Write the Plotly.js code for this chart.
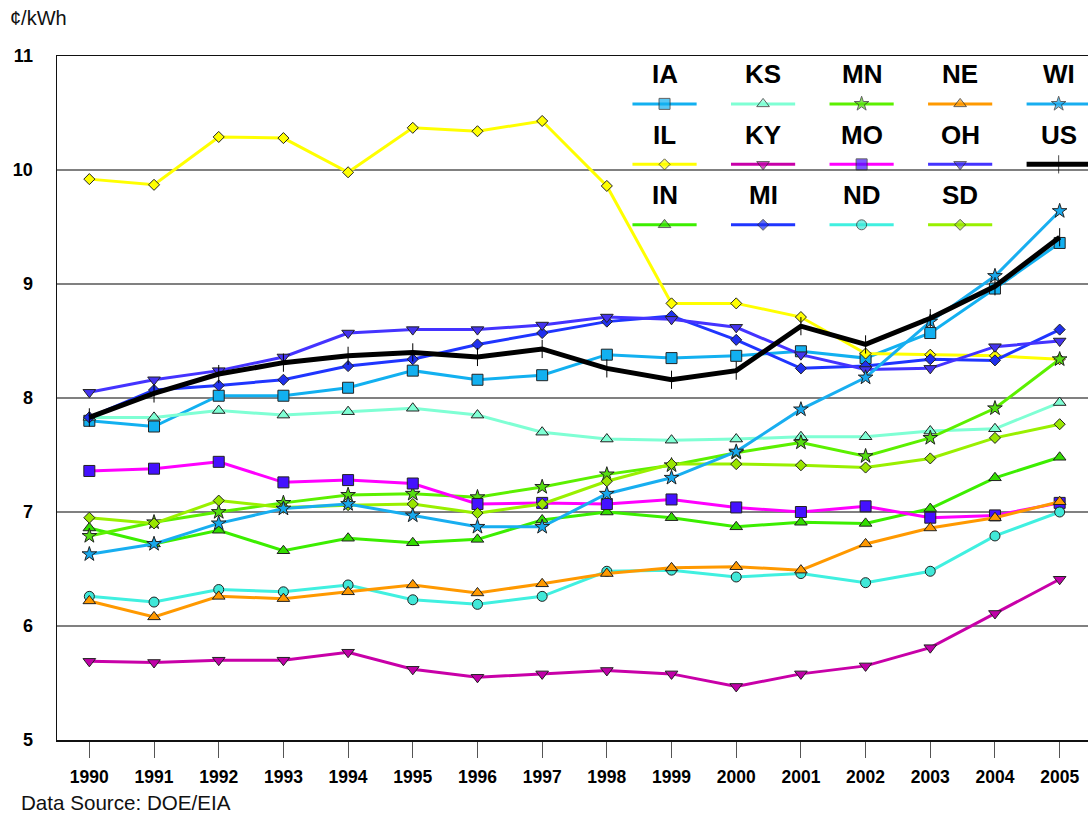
<!DOCTYPE html>
<html><head><meta charset="utf-8">
<script src="https://cdn.plot.ly/plotly-3.0.1.min.js"></script>
<style>html,body{margin:0;padding:0;overflow:hidden;background:#fff}#chart{width:1092px;height:823px}</style>
</head><body><div id="chart"></div><script>
// ---- data ----
const years = [1990,1991,1992,1993,1994,1995,1996,1997,1998,1999,2000,2001,2002,2003,2004,2005];
const seriesNames = ["IA","IL","IN","KS","KY","MI","MN","MO","ND","NE","OH","SD","WI","US"];
const IA = [7.80,7.75,8.02,8.02,8.09,8.24,8.16,8.20,8.38,8.35,8.37,8.41,8.35,8.57,8.96,9.36];
const IL = [9.92,9.87,10.29,10.28,9.98,10.37,10.34,10.43,9.86,8.83,8.83,8.71,8.39,8.38,8.37,8.34];
const IN = [6.86,6.72,6.84,6.66,6.77,6.73,6.76,6.93,7.00,6.95,6.87,6.91,6.90,7.03,7.30,7.48];
const KS = [7.83,7.83,7.89,7.85,7.88,7.91,7.85,7.70,7.64,7.63,7.64,7.66,7.66,7.71,7.73,7.96];
const KY = [5.69,5.68,5.70,5.70,5.77,5.62,5.55,5.58,5.61,5.58,5.47,5.58,5.65,5.81,6.11,6.41];
const MI = [7.83,8.07,8.11,8.16,8.28,8.34,8.47,8.57,8.67,8.72,8.51,8.26,8.28,8.34,8.33,8.60];
const MN = [6.79,6.91,7.00,7.08,7.15,7.16,7.13,7.22,7.33,7.41,7.52,7.61,7.49,7.65,7.91,8.34];
const MO = [7.36,7.38,7.44,7.26,7.28,7.25,7.07,7.08,7.07,7.11,7.04,7.00,7.05,6.95,6.97,7.08];
const ND = [6.26,6.21,6.32,6.30,6.36,6.23,6.19,6.26,6.48,6.49,6.43,6.46,6.38,6.48,6.79,7.00];
const NE = [6.22,6.08,6.26,6.24,6.30,6.36,6.29,6.37,6.46,6.51,6.52,6.49,6.72,6.86,6.95,7.09];
const OH = [8.05,8.16,8.24,8.36,8.57,8.60,8.60,8.64,8.71,8.69,8.62,8.38,8.25,8.26,8.45,8.50];
const SD = [6.95,6.90,7.10,7.04,7.06,7.07,6.99,7.07,7.27,7.42,7.42,7.41,7.39,7.47,7.65,7.77];
const WI = [6.63,6.72,6.90,7.03,7.07,6.97,6.87,6.87,7.16,7.30,7.53,7.90,8.18,8.67,9.07,9.64];
const US = [7.83,8.04,8.21,8.31,8.37,8.40,8.36,8.43,8.26,8.16,8.24,8.63,8.47,8.70,8.98,9.41];
const yTicks = [5,6,7,8,9,10,11];
const yUnit = "¢/kWh";
const sourceNote = "Data Source: DOE/EIA";

// ---- styles ----
const seriesData = [IA,IL,IN,KS,KY,MI,MN,MO,ND,NE,OH,SD,WI,US];
const lineColors = ["#12B0F0","#FFFF00","#3CEE00","#7FFFD4","#C800A8","#1F35FF","#5CF000","#FF00FF","#40F0E0","#FF9900","#4433FF","#99F000","#18AEF0","#000000"];
const markerColors = ["#12B0F0","#FFFF00","#33DD00","#7FFFD4","#C000A8","#1F30EE","#55DD11","#4411FF","#40E8D8","#FF9900","#4433EE","#99E600","#18A8EC","#000000"];
const symbols = ["square","diamond","triangle-up","triangle-up","triangle-down","diamond","star","square","circle","triangle-up","triangle-down","diamond","star","line-ns"];
const sizes = [11,8.5,11,11,11,8.5,11,11,10,11,11,8.5,11,13];

const FONT = "Liberation Sans, Arial, Helvetica, sans-serif";
const traces = [];
seriesNames.forEach((nm,i)=>{
  const isUS = nm==="US";
  traces.push({
    x: years, y: seriesData[i], name: nm, type:'scatter', mode:'lines+markers',
    line:{color: lineColors[i], width: isUS?5:3},
    marker:{symbol: symbols[i], size: sizes[i], color: markerColors[i],
            line:{color: isUS?'#000':'#222', width:1}},
    showlegend:false, cliponaxis:true
  });
});

// ---- custom legend (text above a line sample) on an overlay 0..1 axis ----
const colX0 = 0.587, colStep = 0.0952, halfW = 0.031;
const labelY0 = 0.9735, lineY0 = 0.930, rowStep = 0.0884;
const annotations = [];
seriesNames.forEach((nm,i)=>{
  const col = Math.floor(i/3), row = i%3;
  const cx = colX0 + col*colStep;
  const ly = lineY0 - row*rowStep;
  const isUS = nm==="US";
  traces.push({
    x:[cx-halfW, cx, cx+halfW], y:[ly,ly,ly], xaxis:'x2', yaxis:'y2',
    type:'scatter', mode:'lines+markers', showlegend:false, hoverinfo:'skip',
    line:{color: lineColors[i], width: isUS?5:3},
    marker:{symbol: symbols[i], size:[0,sizes[i],0], color: markerColors[i],
            line:{color: isUS?'#000':'#222', width:[0,1,0]}},
    cliponaxis:false
  });
  annotations.push({xref:'paper', yref:'paper', x:cx, y:labelY0 - row*rowStep,
    text:'<b>'+nm+'</b>', showarrow:false, xanchor:'center', yanchor:'middle',
    font:{family:FONT, size:26, color:'#000'}});
});
annotations.push({xref:'paper', yref:'paper', x:-0.047, y:1.056, xanchor:'left', yanchor:'middle',
  text: yUnit, showarrow:false, font:{family:FONT, size:20, color:'#111'}});
annotations.push({xref:'paper', yref:'paper', x:-0.0365, y:-0.092, xanchor:'left', yanchor:'middle',
  text: sourceNote, showarrow:false, font:{family:FONT, size:20.6, color:'#111'}});

const layout = {
  width:1092, height:823,
  margin:{l:57, r:0, t:56, b:83, pad:0},
  paper_bgcolor:'#fff', plot_bgcolor:'#fff',
  font:{family:FONT, color:'#000'},
  xaxis:{range:[1989.5,2005.5], tickvals:years, ticktext:years.map(y=>'<b>'+y+'</b>'),
    showgrid:false, zeroline:false, showline:true, mirror:true, linecolor:'#111', linewidth:1.5,
    ticks:'outside', ticklen:16, tickwidth:1, tickcolor:'#555', ticklabelstandoff:4,
    tickfont:{family:FONT, size:17.5, color:'#000'}, fixedrange:true},
  yaxis:{range:[5,11], tickvals:yTicks, ticktext:yTicks.map(v=>'<b>'+v+'</b>'),
    showgrid:true, gridcolor:'#808080', gridwidth:1.5, zeroline:false,
    showline:true, mirror:true, linecolor:'#111', linewidth:1.5,
    ticks:'', ticklabelstandoff:19,
    tickfont:{family:FONT, size:18, color:'#000'}, fixedrange:true},
  xaxis2:{overlaying:'x', anchor:'y2', range:[0,1], visible:false, fixedrange:true},
  yaxis2:{overlaying:'y', anchor:'x2', range:[0,1], visible:false, fixedrange:true},
  annotations: annotations,
  showlegend:false
};
Plotly.newPlot('chart', traces, layout, {displayModeBar:false, staticPlot:true});
</script></body></html>
